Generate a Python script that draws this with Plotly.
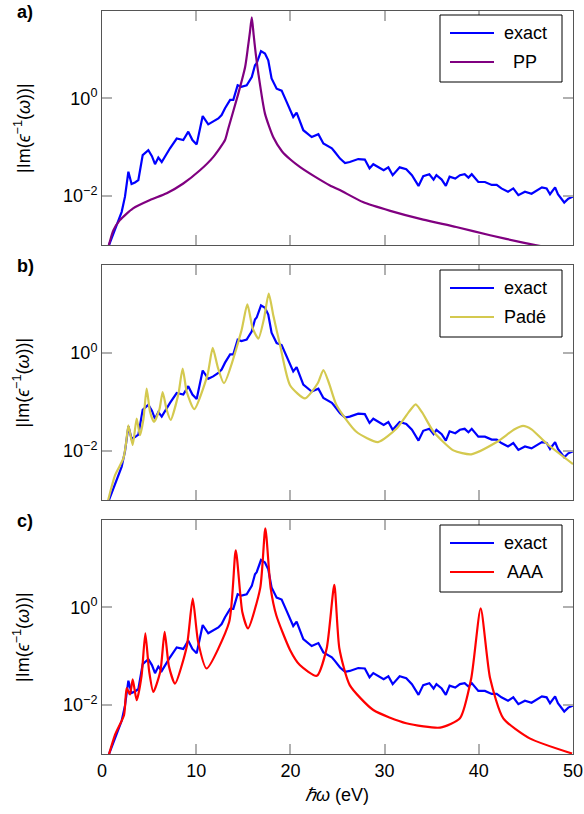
import numpy as np
import plotly.graph_objects as go

# ---------------- data (x in eV, y given as log10 of |Im(eps^-1)|) ----------------
exact_x = [0.55, 1.38, 2.09, 2.44, 2.8, 3.14, 3.5, 3.86, 4.32, 4.92, 5.3, 5.63, 5.98, 6.34, 6.8,
           7.22, 7.93, 8.63, 9.16, 9.6, 10.05, 10.69, 11.28, 11.8, 12.35, 12.7, 13.06, 13.6, 13.94,
           14.4, 14.8, 15.36, 15.9, 16.24, 16.42, 16.88, 17.3, 17.65, 18.0, 18.54, 19.07, 19.6,
           20.3, 20.66, 21.37, 22.26, 22.97, 23.5, 24.0, 24.4, 24.7, 25.27, 25.8, 26.3, 27.2, 27.9,
           28.4, 28.8, 29.9, 30.4, 30.86, 31.6, 32.3, 32.9, 33.6, 34.1, 34.75, 35.2, 35.5, 36.06,
           36.5, 36.9, 37.5, 38.0, 38.5, 38.9, 39.25, 39.95, 40.65, 41.37, 41.9, 42.4, 43.1, 43.66,
           44.2, 44.9, 45.6, 46.15, 46.7, 47.2, 47.56, 48.1, 48.4, 49.07, 49.5, 50.0]
exact_log = [-3.1, -2.66, -2.32, -2.01, -1.50, -1.75, -1.72, -1.67, -1.16, -1.06, -1.18, -1.345, -1.21,
             -1.30, -1.15, -1.02, -0.82, -0.85, -0.68, -0.85, -0.94, -0.36, -0.53, -0.48, -0.41, -0.34,
             -0.20, -0.03, -0.03, 0.27, 0.24, 0.27, 0.44, 0.68, 0.72, 0.97, 0.92, 0.78, 0.41, 0.20,
             0.16, -0.07, -0.38, -0.29, -0.65, -0.79, -0.73, -0.92, -0.98, -1.02, -1.09, -1.23, -1.32,
             -1.30, -1.24, -1.25, -1.43, -1.345, -1.47, -1.41, -1.57, -1.41, -1.45, -1.57, -1.79,
             -1.59, -1.55, -1.66, -1.57, -1.66, -1.79, -1.60, -1.64, -1.57, -1.55, -1.62, -1.55,
             -1.71, -1.71, -1.77, -1.77, -1.84, -1.91, -1.84, -1.98, -1.91, -1.95, -1.88, -1.82,
             -1.84, -1.96, -1.82, -1.96, -2.13, -2.05, -2.01]

pp_x = [0.6, 0.8, 1.2, 1.9, 3.3, 5.1, 6.87, 8.63, 10.4, 11.8, 13.06, 13.4, 14.47, 15.2, 15.5, 15.7,
        15.9, 16.1, 16.3, 16.6, 17.3, 18.2, 19.1, 20.0, 21.0, 22.6, 24.2, 25.3, 27.7, 30.6, 34.1,
        37.6, 41.2, 44.7, 46.0, 50.0]
pp_log = [-3.1, -2.95, -2.70, -2.49, -2.25, -2.08, -1.94, -1.74, -1.47, -1.20, -0.85, -0.62, 0.10,
          0.65, 1.06, 1.35, 1.66, 1.30, 0.95, 0.51, -0.31, -0.80, -1.08, -1.25, -1.40, -1.60, -1.78,
          -1.88, -2.12, -2.30, -2.48, -2.63, -2.80, -2.95, -3.0, -3.15]

pade_x = [0.4, 1.38, 2.26, 2.55, 2.8, 3.26, 3.68, 4.03, 4.4, 4.74, 5.1, 5.52, 6.1, 6.44, 6.85, 7.29,
          8.1, 8.56, 9.0, 9.8, 11.2, 11.75, 12.3, 12.95, 14.8, 15.43, 16.0, 16.6, 17.2, 17.7, 18.2,
          18.9, 19.96, 21.55, 22.9, 23.5, 24.1, 24.9, 27.0, 29.3, 31.3, 32.6, 33.3, 34.0, 35.2,
          37.3, 39.2, 41.9, 43.8, 44.7, 45.6, 47.2, 50.0]
pade_log = [-3.2, -2.50, -2.16, -1.85, -1.48, -1.88, -1.34, -1.68, -1.35, -0.73, -1.2, -1.41, -1.15,
            -0.80, -1.15, -1.37, -0.85, -0.32, -0.8, -1.15, -0.45, 0.10, -0.30, -0.62, 0.45, 0.99,
            0.50, 0.29, 0.70, 1.21, 0.75, 0.16, -0.66, -0.93, -0.62, -0.35, -0.62, -1.07, -1.61,
            -1.82, -1.54, -1.20, -1.05, -1.22, -1.61, -1.99, -2.07, -1.82, -1.56, -1.49, -1.56,
            -1.85, -2.27]

aaa_x = [0.45, 1.38, 2.34, 2.62, 2.97, 3.26, 3.68, 4.2, 4.6, 5.0, 5.45, 6.2, 6.65, 7.1, 7.75, 9.0,
         9.63, 10.2, 11.1, 13.5, 14.2, 14.9, 15.5, 16.8, 17.34, 17.9, 18.5, 19.96, 21.0, 22.8,
         23.85, 24.66, 25.2, 26.3, 28.8, 32.3, 35.9, 38.0, 39.2, 40.2, 41.2, 42.6, 45.4, 49.9]
aaa_log = [-3.2, -2.61, -2.20, -1.65, -1.78, -1.47, -1.90, -1.4, -0.53, -1.3, -1.73, -1.3, -0.50,
           -1.2, -1.56, -0.8, 0.18, -0.7, -1.25, -0.3, 1.17, -0.1, -0.43, 0.4, 1.62, 0.4, -0.16,
           -0.87, -1.18, -1.40, -0.84, 0.46, -0.84, -1.59, -2.10, -2.37, -2.46, -2.27, -1.45, -0.02,
           -1.45, -2.27, -2.68, -2.99]

panel_labels = ["a)", "b)", "c)"]
model_names = ["PP", "Padé", "AAA"]
exact_name = "exact"
exact_color = "#0000ff"
model_colors = ["#800080", "#d4c94f", "#ff0000"]
x_ticks = [0, 10, 20, 30, 40, 50]
y_ticks = [1e-2, 1.0]
y_ticktext = ["10<sup>−2</sup>", "10<sup>0</sup>"]

# ---------------- layout geometry ----------------
W, H = 584, 814
ML, MR, MT, MB = 102, 11, 11, 60
PW, PH = W - ML - MR, H - MT - MB
domains = [[0.685, 1.0], [0.342, 0.658], [0.0, 0.315]]
legend_top_px = [15, 270, 525]
FONT = "Liberation Sans, Arial, Helvetica, sans-serif"


def px_x(p):
    return (p - ML) / PW


def px_y(p):
    return (H - MB - p) / PH


fig = go.Figure()
model_data = [(pp_x, pp_log), (pade_x, pade_log), (aaa_x, aaa_log)]
for i in range(3):
    ax = "" if i == 0 else str(i + 1)
    fig.add_trace(go.Scatter(x=exact_x, y=10 ** np.array(exact_log), mode="lines",
                             line=dict(color=exact_color, width=2.2), name=exact_name,
                             xaxis="x" + ax, yaxis="y" + ax, showlegend=False))
    mx, ml = model_data[i]
    fig.add_trace(go.Scatter(x=mx, y=10 ** np.array(ml), mode="lines",
                             line=dict(color=model_colors[i], width=2.2, shape="spline", smoothing=0.6),
                             name=model_names[i], xaxis="x" + ax, yaxis="y" + ax, showlegend=False))

axis_common = dict(showline=True, linecolor="#555555", linewidth=1, mirror="ticks",
                   ticks="inside", ticklen=10, tickwidth=1.5, tickcolor="#b0b0b0",
                   showgrid=False, zeroline=False,
                   tickfont=dict(family=FONT, size=18, color="black"))

layout = dict(width=W, height=H, margin=dict(l=ML, r=MR, t=MT, b=MB, autoexpand=False),
              plot_bgcolor="white", paper_bgcolor="white", showlegend=False,
              font=dict(family=FONT, size=18, color="black"))
annotations = []
shapes = []
for i in range(3):
    ax = "" if i == 0 else str(i + 1)
    layout["xaxis" + ax] = dict(axis_common, domain=[0, 1], range=[0, 50], anchor="y" + ax,
                                tickvals=x_ticks, showticklabels=(i == 2))
    layout["yaxis" + ax] = dict(axis_common, domain=domains[i], type="log", range=[-3, 1.79],
                                anchor="x" + ax, tickvals=y_ticks, ticktext=y_ticktext)
    # legend box (drawn by hand so that it matches the reference layout)
    top = legend_top_px[i]
    shapes.append(dict(type="rect", xref="paper", yref="paper",
                       x0=px_x(440), x1=px_x(562), y0=px_y(top + 67), y1=px_y(top),
                       line=dict(color="black", width=1), fillcolor="white", layer="above"))
    for row, (name, col) in enumerate([(exact_name, exact_color), (model_names[i], model_colors[i])]):
        yc = top + 18 + 29 * row
        shapes.append(dict(type="line", xref="paper", yref="paper",
                           x0=px_x(450), x1=px_x(494), y0=px_y(yc), y1=px_y(yc),
                           line=dict(color=col, width=2.2), layer="above"))
        annotations.append(dict(text=name, xref="paper", yref="paper",
                                x=px_x(525), y=px_y(yc), xanchor="center", yanchor="middle",
                                showarrow=False, font=dict(family=FONT, size=18, color="black")))
    annotations.append(dict(text="<b>" + panel_labels[i] + "</b>", xref="paper", yref="paper",
                            x=px_x(25), y=domains[i][1] - 0.001,
                            xanchor="center", yanchor="middle", showarrow=False,
                            font=dict(family=FONT, size=18, color="black")))
    annotations.append(dict(text="|Im(<i>ϵ</i><sup>−1</sup>(<i>ω</i>))|", xref="paper", yref="paper",
                            x=px_x(22), y=(domains[i][0] + domains[i][1]) / 2,
                            xanchor="center", yanchor="middle", textangle=-90, showarrow=False,
                            font=dict(family=FONT, size=18, color="black")))
annotations.append(dict(text="<i>ℏω</i> (eV)", xref="paper", yref="paper",
                        x=px_x(337), y=px_y(795),
                        xanchor="center", yanchor="middle", showarrow=False,
                        font=dict(family=FONT, size=18, color="black")))
layout["annotations"] = annotations
layout["shapes"] = shapes
fig.update_layout(**layout)
fig.write_html("out.html")
